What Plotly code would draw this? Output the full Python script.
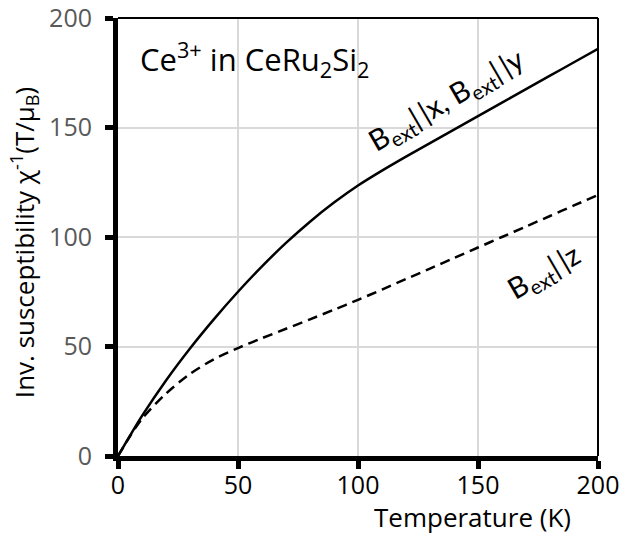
import plotly.graph_objects as go

temperature = [0, 5, 10, 20, 30, 40, 50, 60, 70, 80, 90, 100, 110, 120, 130, 140, 150, 160, 170, 180, 190, 200]
chi_inv_xy = [0, 9.3, 18.3, 34.5, 49.1, 62.5, 75, 86.6, 97.3, 107, 115.7, 123.5, 130.3, 136.7, 142.9, 149.05, 155.2, 161.35, 167.5, 173.65, 179.8, 185.95]
chi_inv_z = [0, 9, 17, 28.5, 37.5, 44.2, 49.3, 53.8, 58.1, 62.4, 66.8, 71.3, 76, 80.8, 85.6, 90.4, 95.2, 100, 104.8, 109.6, 114.4, 119.2]
tick_vals = [0, 50, 100, 150, 200]

FONT = "Open Sans"
LABEL_FONT = "Lato"

fig = go.Figure()
fig.add_trace(go.Scatter(x=temperature, y=chi_inv_xy, mode="lines",
                         line=dict(color="black", width=2.5, shape="spline", smoothing=0.8), showlegend=False))
fig.add_trace(go.Scatter(x=temperature, y=chi_inv_z, mode="lines",
                         line=dict(color="black", width=2.5, dash="10px,6px", shape="spline", smoothing=0.8), showlegend=False))

fig.update_layout(
    width=624, height=535,
    margin=dict(l=118, r=26, t=18, b=79),
    plot_bgcolor="white", paper_bgcolor="white",
    font=dict(family=FONT, color="black", size=24),
    xaxis=dict(range=[0, 200], tickvals=tick_vals, showgrid=True, gridcolor="#d9d9d9", gridwidth=1.5,
               showline=True, linecolor="black", linewidth=5, ticks="outside", ticklen=8, tickwidth=5,
               tickcolor="black", tickfont=dict(size=25, color="black"), zeroline=False, automargin=False,
               ticklabeloverflow="allow", ticklabelstandoff=-5),
    yaxis=dict(range=[0, 200], tickvals=tick_vals, showgrid=True, gridcolor="#d9d9d9", gridwidth=1.5,
               showline=True, linecolor="black", linewidth=5, ticks="outside", ticklen=8, tickwidth=5,
               tickcolor="black", tickfont=dict(size=25, color="#595959"), zeroline=False, automargin=False,
               ticklabeloverflow="allow", ticklabelstandoff=8),
    shapes=[dict(type="line", xref="paper", yref="paper", x0=0, x1=1, y0=1, y1=1, line=dict(color="black", width=2)),
            dict(type="line", xref="paper", yref="paper", x0=1, x1=1, y0=0, y1=1, line=dict(color="black", width=2))],
    annotations=[
        dict(text="Ce<sup>3+</sup> in CeRu<sub>2</sub>Si<sub>2</sub>", xref="paper", yref="paper", x=0.042, y=0.905,
             xanchor="left", yanchor="middle", showarrow=False, font=dict(size=31)),
        dict(text="B<sub>ext</sub>|\u2009|x, B<sub>ext</sub>|\u2009|y", xref="paper", yref="paper", x=0.685, y=0.811,
             xanchor="center", yanchor="middle", showarrow=False, textangle=-30, font=dict(family=LABEL_FONT, size=29)),
        dict(text="B<sub>ext</sub>|\u2009|z", xref="paper", yref="paper", x=0.8875, y=0.42,
             xanchor="center", yanchor="middle", showarrow=False, textangle=-30, font=dict(family=LABEL_FONT, size=29)),
        dict(text="Temperature (K)", xref="paper", yref="paper", x=0.7375, y=-0.14,
             xanchor="center", yanchor="middle", showarrow=False, font=dict(size=26)),
        dict(text="Inv. susceptibility χ<sup>-1</sup>(T/μ<sub>B</sub>)", xref="paper", yref="paper", x=-0.197, y=0.487,
             xanchor="center", yanchor="middle", showarrow=False, textangle=-90, font=dict(size=26)),
    ],
)

fig.write_html("out.html")
